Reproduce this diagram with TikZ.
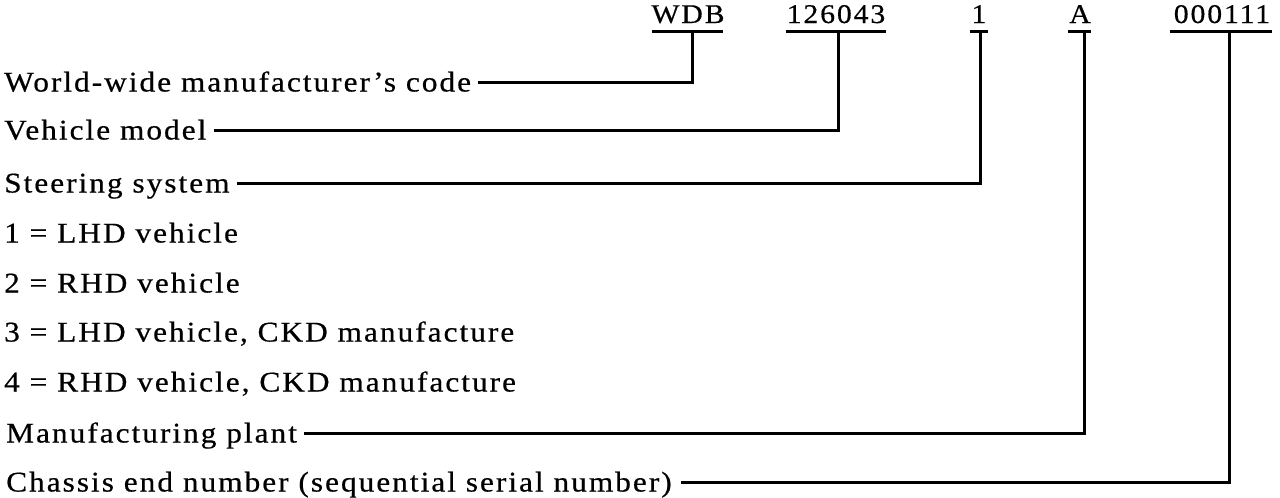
\documentclass[tikz,border=0pt]{standalone}
\usepackage{fontspec}
\setmainfont[LetterSpace=7,FakeStretch=1.1,FakeBold=0.5]{Liberation Serif}
\begin{document}
\begin{tikzpicture}[x=1pt,y=-1pt,
  lab/.style={anchor=base west,inner sep=0pt,font=\fontsize{28.5}{30}\selectfont},
  code/.style={anchor=base,inner sep=0pt,font=\fontsize{27}{30}\selectfont},
  ln/.style={line width=3pt,line cap=butt}]
\useasboundingbox (0,0) rectangle (1280,498);
% codes
\node[code] (wdb) at (688,23) {WDB};
\node[code] (mod) at (836,23) {126043};
\node[code] (ste) at (979,23) {1};
\node[code] (pla) at (1080,23) {A};
\node[code] (ser) at (1222,23) {000111};
% underlines
\draw[ln] (652,31) -- (723,31);
\draw[ln] (786,31) -- (886,31);
\draw[ln] (970,31) -- (988,31);
\draw[ln] (1068,31) -- (1091,31);
\draw[ln] (1170,31) -- (1272,31);
\coordinate (cwdb) at (692,31);
\coordinate (cmod) at (838,31);
\coordinate (cste) at (980,31);
\coordinate (cpla) at (1084,31);
\coordinate (cser) at (1229,31);
% labels
\node[lab] (l1) at (4,91.5) {World-wide manufacturer's code};
\node[lab] (l2) at (4,139.5) {Vehicle model};
\node[lab] (l3) at (4,192.5) {Steering system};
\node[lab] (l4) at (4,242.5) {1 = LHD vehicle};
\node[lab] (l5) at (4,292.5) {2 = RHD vehicle};
\node[lab] (l6) at (4,341.5) {3 = LHD vehicle, CKD manufacture};
\node[lab] (l7) at (4,391.5) {4 = RHD vehicle, CKD manufacture};
\node[lab] (l8) at (6,442.5) {Manufacturing plant};
\node[lab] (l9) at (6,491.5) {Chassis end number (sequential serial number)};
% connectors
\draw[ln] ([xshift=7pt,yshift=9.5pt]l1.base east) -| (cwdb);
\draw[ln] ([xshift=7pt,yshift=9.5pt]l2.base east) -| (cmod);
\draw[ln] ([xshift=7pt,yshift=9.5pt]l3.base east) -| (cste);
\draw[ln] ([xshift=7pt,yshift=9.5pt]l8.base east) -| (cpla);
\draw[ln] ([xshift=9pt,yshift=9.5pt]l9.base east) -| (cser);
\end{tikzpicture}
\end{document}
